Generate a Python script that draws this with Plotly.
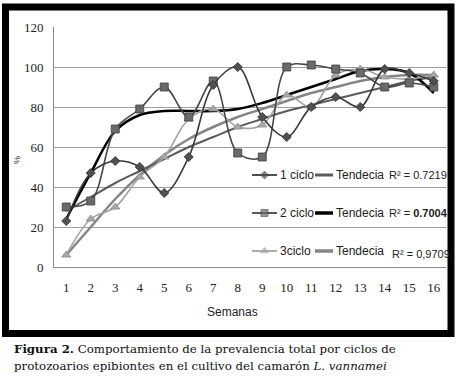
import plotly.graph_objects as go

# ---- data ----
weeks = list(range(1, 17))
week_labels = [str(w) for w in weeks]
ciclo1 = [23, 47, 53, 50, 37, 55, 91, 100, 75, 65, 80, 85, 80, 99, 97, 93]
ciclo2 = [30, 33, 69, 79, 90, 75, 93, 57, 55, 100, 101, 99, 97, 90, 92, 90]
ciclo3 = [6, 24, 30, 45, 55, 74, 79, 70, 71, 86, 80, 96, 99, 95, 94, 96]
trend1 = [28, 35, 42, 48, 54, 60, 65, 70, 74, 78, 81, 84, 87, 90, 93, 95]
trend2 = [24, 47, 68, 76, 78, 78, 78, 79, 82, 86, 90, 94, 98, 99, 97, 87]
trend3 = [6, 20, 34, 46, 56, 64, 70, 75, 79, 83, 87, 90, 93, 95, 96, 96]
y_ticks = [0, 20, 40, 60, 80, 100, 120]
series_names = ["1 ciclo", "2 ciclo", "3ciclo"]
trend_name = "Tendecia"
r2_labels = ["R² = 0.7219", "R² = <b>0.7004</b>", "R² = 0,9709"]

W, H = 461, 383
ML, MR, MT, MB = 54, 15, 27, 116
PW, PH = W - ML - MR, H - MT - MB


def px(x):
    return (x - ML) / PW


def py(y):
    return (H - MB - y) / PH


c1_col, c2_col, c3_col = "#3a3a3a", "#474747", "#a3a3a3"
t1_col, t2_col, t3_col = "#5a5a5a", "#000000", "#858585"

fig = go.Figure()

# trendlines
fig.add_trace(go.Scatter(x=weeks, y=trend3, mode="lines",
                         line=dict(color=t3_col, width=2.5, shape="spline", smoothing=1.0),
                         showlegend=False, hoverinfo="skip"))
fig.add_trace(go.Scatter(x=weeks, y=trend1, mode="lines",
                         line=dict(color=t1_col, width=2, shape="spline", smoothing=1.0),
                         showlegend=False, hoverinfo="skip"))
fig.add_trace(go.Scatter(x=weeks, y=trend2, mode="lines",
                         line=dict(color=t2_col, width=2.5, shape="spline", smoothing=1.0),
                         showlegend=False, hoverinfo="skip"))

# data series
fig.add_trace(go.Scatter(x=weeks, y=ciclo3, mode="lines+markers", name=series_names[2],
                         line=dict(color=c3_col, width=1.6, shape="spline", smoothing=1.0),
                         marker=dict(symbol="triangle-up", size=8, color="#a8a8a8",
                                     line=dict(color="#8c8c8c", width=0.8)),
                         showlegend=False))
fig.add_trace(go.Scatter(x=weeks, y=ciclo2, mode="lines+markers", name=series_names[1],
                         line=dict(color=c2_col, width=1.6, shape="spline", smoothing=1.0),
                         marker=dict(symbol="square", size=8, color="#6a6a6a",
                                     line=dict(color="#3f3f3f", width=0.8)),
                         showlegend=False))
fig.add_trace(go.Scatter(x=weeks, y=ciclo1, mode="lines+markers", name=series_names[0],
                         line=dict(color=c1_col, width=1.6, shape="spline", smoothing=1.0),
                         marker=dict(symbol="diamond", size=7, color="#505050",
                                     line=dict(color="#2e2e2e", width=0.8)),
                         showlegend=False))

# legend keys on an overlay axis in pixel units
rows_y = [175, 213, 251]
key_styles = [
    (c1_col, "diamond", 6, "#505050"),
    (c2_col, "square", 7, "#6a6a6a"),
    (c3_col, "triangle-up", 7, "#a8a8a8"),
]
trend_cols = [t1_col, t2_col, t3_col]
trend_w = [3, 3.5, 3.5]
for i, yk in enumerate(rows_y):
    col, sym, sz, mcol = key_styles[i]
    fig.add_trace(go.Scatter(x=[252, 264.5, 277], y=[yk, yk, yk], mode="lines+markers",
                             line=dict(color=col, width=1.8),
                             marker=dict(symbol=sym, size=[0, sz, 0], color=mcol),
                             xaxis="x2", yaxis="y2", showlegend=False, hoverinfo="skip"))
    fig.add_trace(go.Scatter(x=[315, 333], y=[yk, yk], mode="lines",
                             line=dict(color=trend_cols[i], width=trend_w[i]),
                             xaxis="x2", yaxis="y2", showlegend=False, hoverinfo="skip"))

annotations = []
sans = "Liberation Sans, Arial, sans-serif"
for i, yk in enumerate(rows_y):
    annotations.append(dict(x=px(278), y=py(yk), xref="paper", yref="paper", text=series_names[i],
                            showarrow=False, xanchor="left", yanchor="middle",
                            font=dict(family=sans, size=12, color="#222222")))
    annotations.append(dict(x=px(334), y=py(yk), xref="paper", yref="paper", text=trend_name,
                            showarrow=False, xanchor="left", yanchor="middle",
                            font=dict(family=sans, size=12, color="#222222")))
    ry = yk + (3 if i == 2 else 0)
    rx = 390 if i == 2 else 387
    annotations.append(dict(x=px(rx), y=py(ry), xref="paper", yref="paper", text=r2_labels[i],
                            showarrow=False, xanchor="left", yanchor="middle",
                            font=dict(family=sans, size=11, color="#222222")))

# axis titles
annotations.append(dict(x=px(232), y=py(312), xref="paper", yref="paper", text="Semanas",
                        showarrow=False, xanchor="center", yanchor="middle",
                        font=dict(family=sans, size=12, color="#222222")))
annotations.append(dict(x=px(17), y=py(160), xref="paper", yref="paper", text="%",
                        showarrow=False, xanchor="center", yanchor="middle", textangle=-90,
                        font=dict(family=sans, size=9, color="#222222")))

# caption
cap_font = dict(family="DejaVu Serif, Liberation Serif, serif", size=11.8, color="#111111")
annotations.append(dict(x=px(12), y=py(349), xref="paper", yref="paper",
                        text="<b>Figura 2.</b> Comportamiento de la prevalencia total por ciclos de",
                        showarrow=False, xanchor="left", yanchor="middle", font=cap_font))
annotations.append(dict(x=px(12), y=py(366), xref="paper", yref="paper",
                        text="protozoarios epibiontes en el cultivo del camarón <i>L. vannamei</i>",
                        showarrow=False, xanchor="left", yanchor="middle", font=cap_font))

shapes = [
    # white box behind first legend row (hides the gridline there)
    dict(type="rect", xref="paper", yref="paper", x0=px(250), x1=px(386), y0=py(190), y1=py(163),
         fillcolor="white", line=dict(width=0), layer="between"),
    # thick black frame around the chart
    dict(type="rect", xref="paper", yref="paper", x0=px(5.5), x1=px(451), y0=py(333.5), y1=py(7),
         line=dict(color="black", width=7), fillcolor="rgba(0,0,0,0)", layer="above"),
]

tick_font = dict(family="Liberation Serif, DejaVu Serif, serif", size=13, color="#222222")

fig.update_layout(
    width=W, height=H,
    margin=dict(l=ML, r=MR, t=MT, b=MB, pad=0),
    paper_bgcolor="white", plot_bgcolor="white",
    showlegend=False,
    xaxis=dict(range=[0.5, 16.5], tickmode="array", tickvals=weeks, ticktext=week_labels,
               showgrid=False, zeroline=False, showline=True, linecolor="#8a8a8a", linewidth=1,
               ticks="", tickfont=tick_font, ticklabelstandoff=8, fixedrange=True),
    yaxis=dict(range=[0, 120], tickmode="array", tickvals=y_ticks,
               showgrid=True, gridcolor="#9e9e9e", gridwidth=1, zeroline=False,
               showline=True, linecolor="#8a8a8a", linewidth=1,
               ticks="", tickfont=tick_font, ticklabelstandoff=7, fixedrange=True),
    xaxis2=dict(range=[ML, W - MR], overlaying="x", visible=False, fixedrange=True),
    yaxis2=dict(range=[H - MB, MT], overlaying="y", visible=False, fixedrange=True),
    annotations=annotations,
    shapes=shapes,
)

fig.write_html("out.html", post_script="document.body.style.margin='0';",
               config={"displayModeBar": False})
